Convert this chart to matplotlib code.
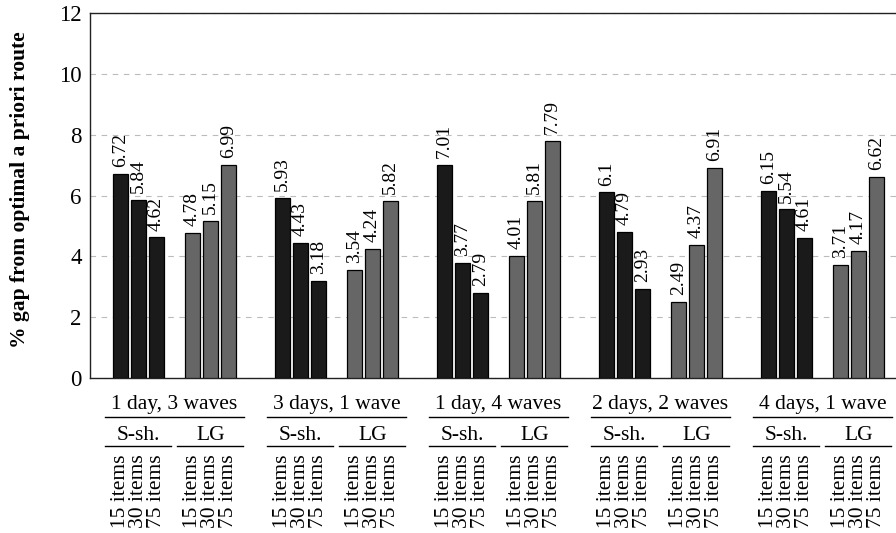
import matplotlib
matplotlib.use("Agg")
import matplotlib.pyplot as plt
from matplotlib.lines import Line2D
from matplotlib.transforms import blended_transform_factory

# данные
scenarios = ["1 day, 3 waves", "3 days, 1 wave", "1 day, 4 waves",
             "2 days, 2 waves", "4 days, 1 wave"]
methods = ["S-sh.", "LG"]
sizes = ["15 items", "30 items", "75 items"]
ssh_vals = [[6.72, 5.84, 4.62], [5.93, 4.43, 3.18], [7.01, 3.77, 2.79],
            [6.1, 4.79, 2.93], [6.15, 5.54, 4.61]]
lg_vals = [[4.78, 5.15, 6.99], [3.54, 4.24, 5.82], [4.01, 5.81, 7.79],
           [2.49, 4.37, 6.91], [3.71, 4.17, 6.62]]

plt.rcParams['font.family'] = ['Liberation Serif', 'DejaVu Serif']

W, H = 896, 533
fig = plt.figure(figsize=(W / 100, H / 100), dpi=100)
ax = fig.add_axes([90 / W, (H - 378) / H, (907 - 90) / W, (378 - 13) / H])

bw = 0.83
colors = ["#1a1a1a", "#666666"]
for g in range(len(scenarios)):
    for m, vals in enumerate([ssh_vals[g], lg_vals[g]]):
        for i, v in enumerate(vals):
            x = 9 * g + 4 * m + i
            ax.bar(x, v, width=bw, color=colors[m], edgecolor="black",
                   linewidth=0.9, zorder=3)
            ax.annotate(f"{v:g}", (x, v), xytext=(0, 5), textcoords="offset points",
                        rotation=90, ha="center", va="bottom", fontsize=14)

ax.set_xlim(-1.7, 43.7)
ax.set_ylim(0, 12)
ax.set_yticks(range(0, 13, 2))
ax.set_xticks([])
ax.tick_params(axis="y", length=0, pad=6, labelsize=16.5)
ax.yaxis.grid(True, linestyle=(0, (5, 5)), color="#bbbbbb", linewidth=0.8, zorder=0)
for s in ["left", "bottom", "top"]:
    ax.spines[s].set_color("#222222")
    ax.spines[s].set_linewidth(1.0)
ax.spines["right"].set_visible(False)

fig.text(20 / W, 1 - 190 / H, "% gap from optimal a priori route", rotation=90,
         ha="center", va="center", fontsize=15.5, fontweight="bold")

# подписи под осью
tr = blended_transform_factory(ax.transData, fig.transFigure)
def fy(py):
    return 1 - py / H

for g, name in enumerate(scenarios):
    x0 = 9 * g
    ax.text(x0 + 3, fy(405), name, transform=tr, ha="center", va="center", fontsize=15.5)
    fig.add_artist(Line2D([x0 - 0.85, x0 + 6.85], [fy(417), fy(417)], transform=tr,
                          color="black", linewidth=1.0))
    for m, mname in enumerate(methods):
        xm = x0 + 4 * m
        ax.text(xm + 1, fy(435), mname, transform=tr, ha="center", va="center", fontsize=15.5)
        fig.add_artist(Line2D([xm - 0.85, xm + 2.8], [fy(446), fy(446)], transform=tr,
                              color="black", linewidth=1.0))
        for i, sz in enumerate(sizes):
            ax.text(xm + i, fy(454), sz, transform=tr, rotation=90, ha="center",
                    va="top", fontsize=15.5)

fig.savefig("out.png", dpi=100)
